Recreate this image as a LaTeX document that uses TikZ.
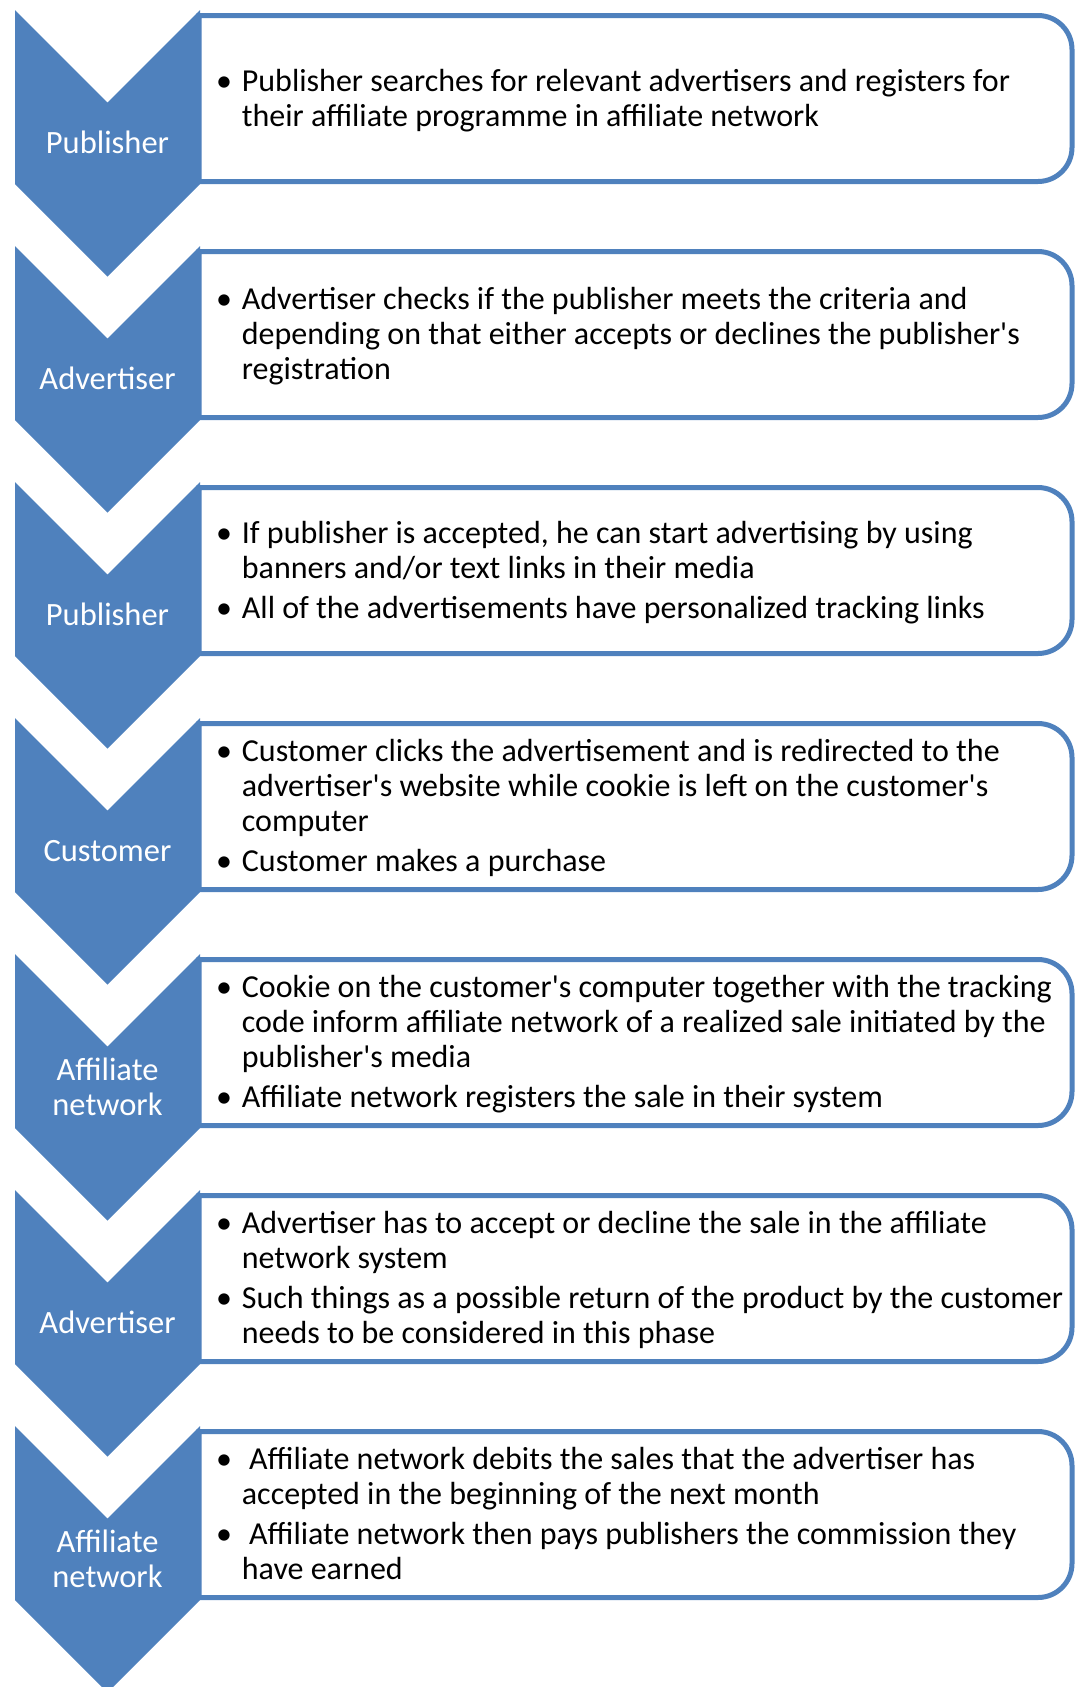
\documentclass[tikz,border=0pt]{standalone}
\usepackage{fontspec}
\setmainfont{Carlito}
\definecolor{cblue}{HTML}{4F81BD}
\newcommand{\bul}{\makebox[25.7pt][l]{•}}
\newcommand{\ap}{\textquotesingle}
\tikzset{
  chevshape/.style={fill=cblue, draw=none},
  infobox/.style={draw=cblue, line width=5pt, fill=white},
  chevtext/.style={anchor=base, inner sep=0pt, text=white, font=\fontsize{32.5}{34.5}\selectfont},
  bodytext/.style={anchor=west, inner sep=0pt, text=black, font=\fontsize{32}{35}\selectfont},
}
\begin{document}
\begin{tikzpicture}[x=1pt, y=-1pt]
\useasboundingbox (0,0) rectangle (1077,1687);
\clip (0,0) rectangle (1077,1687);
\foreach \k in {0,...,6} {
  \pgfmathsetmacro{\T}{15.5+236*\k}
  \pgfmathsetmacro{\B}{181.5+236*\k}
  \draw[infobox] (199,\T) -- (1038,\T) arc(-90:0:34) -- (1072,\B-34) arc(0:90:34) -- (199,\B) -- cycle;
}
\foreach \k in {0,...,6} {
  \pgfmathsetmacro{\t}{10+236*\k}
  \fill[chevshape] (15,\t) -- (107.5,\t+92.5) -- (200,\t) -- (200,\t+174) -- (107.5,\t+266.5) -- (15,\t+174) -- cycle;
}
% chevron labels
\node[chevtext] (l1) at (107.5,153.75) {\begin{tabular}[t]{@{}c@{}}Publisher\end{tabular}};
\node[chevtext] (l2) at (107.5,389.75) {\begin{tabular}[t]{@{}c@{}}Advertiser\end{tabular}};
\node[chevtext] (l3) at (107.5,625.75) {\begin{tabular}[t]{@{}c@{}}Publisher\end{tabular}};
\node[chevtext] (l4) at (107.5,861.75) {\begin{tabular}[t]{@{}c@{}}Customer\end{tabular}};
\node[chevtext] (l5) at (107.5,1080.5) {\begin{tabular}[t]{@{}c@{}}Affiliate\\network\end{tabular}};
\node[chevtext] (l6) at (107.5,1333.75) {\begin{tabular}[t]{@{}c@{}}Advertiser\end{tabular}};
\node[chevtext] (l7) at (107.5,1552.5) {\begin{tabular}[t]{@{}c@{}}Affiliate\\network\end{tabular}};
% box texts
\node[bodytext] (t1) at (216,101.8) {\begin{tabular}{@{}l@{}l@{}}
\bul & Publisher searches for relevant advertisers and registers for\\
 & their affiliate programme in affiliate network
\end{tabular}};
\node[bodytext] (t2) at (216,337.8) {\begin{tabular}{@{}l@{}l@{}}
\bul & Advertiser checks if the publisher meets the criteria and\\
 & depending on that either accepts or declines the publisher\ap s\\
 & registration
\end{tabular}};
\node[bodytext] (t3) at (216,573.8) {\begin{tabular}{@{}l@{}l@{}}
\bul & If publisher is accepted, he can start advertising by using\\
 & banners and/or text links in their media\\[5pt]
\bul & All of the advertisements have personalized tracking links
\end{tabular}};
\node[bodytext] (t4) at (216,809.8) {\begin{tabular}{@{}l@{}l@{}}
\bul & Customer clicks the advertisement and is redirected to the\\
 & advertiser\ap s website while cookie is left on the customer\ap s\\
 & computer\\[5pt]
\bul & Customer makes a purchase
\end{tabular}};
\node[bodytext] (t5) at (216,1045.8) {\begin{tabular}{@{}l@{}l@{}}
\bul & Cookie on the customer\ap s computer together with the tracking\\
 & code inform affiliate network of a realized sale initiated by the\\
 & publisher\ap s media\\[5pt]
\bul & Affiliate network registers the sale in their system
\end{tabular}};
\node[bodytext] (t6) at (216,1281.8) {\begin{tabular}{@{}l@{}l@{}}
\bul & Advertiser has to accept or decline the sale in the affiliate\\
 & network system\\[5pt]
\bul & Such things as a possible return of the product by the customer\\
 & needs to be considered in this phase
\end{tabular}};
\node[bodytext] (t7) at (216,1517.8) {\begin{tabular}{@{}l@{}l@{}}
\bul & \ Affiliate network debits the sales that the advertiser has\\
 & accepted in the beginning of the next month\\[5pt]
\bul & \ Affiliate network then pays publishers the commission they\\
 & have earned
\end{tabular}};
\end{tikzpicture}
\end{document}
